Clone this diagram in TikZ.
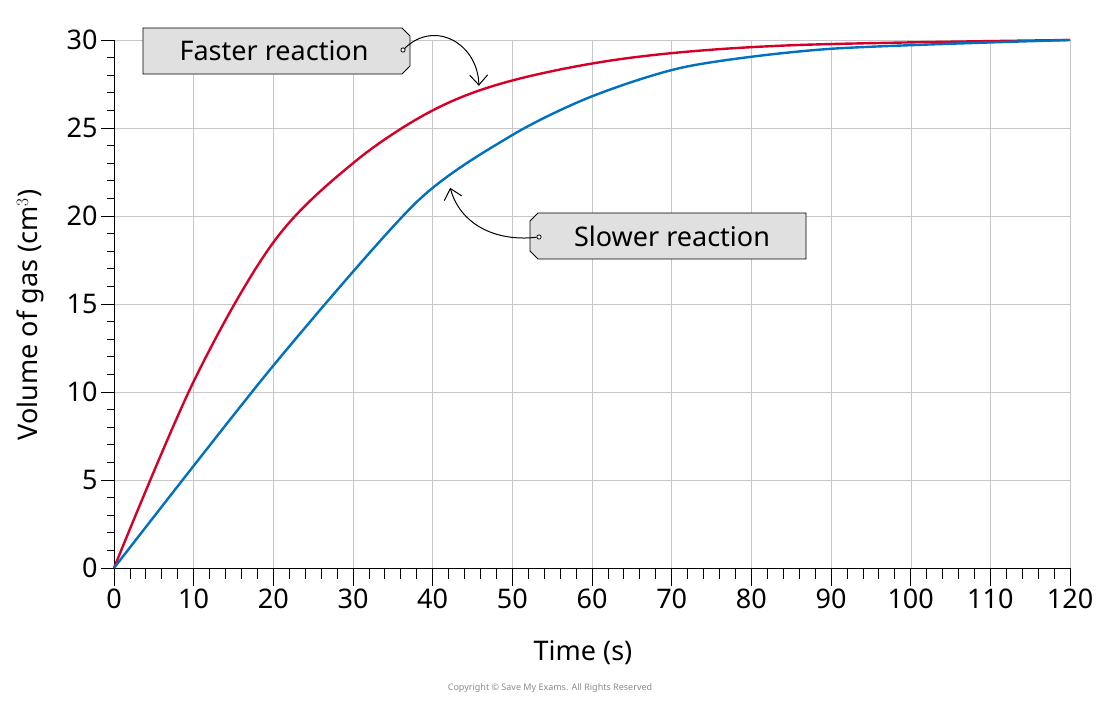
\documentclass[tikz,border=0pt]{standalone}
\usepackage{fontspec}
\setmainfont{Noto Sans}
\usetikzlibrary{arrows.meta}
\begin{document}
\begin{tikzpicture}[x=1pt,y=1pt,
  tk/.style={font=\fontsize{27}{30}\selectfont},
  bx/.style={thick,fill=black!12},
  crv/.style={line width=2.4pt}]
\useasboundingbox (0,0) rectangle (1100,704);
\fill[white] (0,0) rectangle (1100,704);
\begin{scope}[shift={(114,136)},x=7.967pt,y=17.6pt]
  \foreach \i in {10,20,...,120} \draw[black!22] (\i,0) -- (\i,30);
  \foreach \j in {5,10,...,30} \draw[black!22] (0,\j) -- (120,\j);
  \foreach \i in {0,2,...,120} \draw[thick] (\i,0) -- (\i,-0.6);
  \foreach \i in {0,10,...,120} \draw[thick] (\i,0) -- (\i,-1.0) node[tk,below=0pt] {\i};
  \foreach \j in {0,1,...,30} \draw[thick] (0,\j) -- (-0.9,\j);
  \foreach \j in {0,5,...,30} \draw[thick] (0,\j) -- (-1.6,\j) node[tk,left=0pt] {\j};
  \draw[thick] (0,0) -- (120,0);
  \draw[thick] (0,0) -- (0,30);
  \draw[crv,color={rgb,255:red,212;green,0;blue,40}] plot[smooth,tension=0.55] coordinates
   {(0,0) (10,10.6) (20,18.5) (30,23) (40,26) (50,27.7) (65,29.0) (85,29.7) (120,30)};
  \draw[crv,color={rgb,255:red,0;green,112;blue,192}] plot[smooth,tension=0.45] coordinates
   {(0,0) (20,11.5) (38,20.8) (50,24.6) (60,26.8) (72,28.5) (90,29.5) (120,30)};
  \coordinate (fa) at (45.8,27.4);
  \coordinate (sa) at (42.2,21.6);
\end{scope}
\draw[bx] (143,676) -- (402,676) -- (410,668) -- (410,638) -- (402,630) -- (143,630) -- cycle;
\node[tk] (ft) at (274,653) {Faster reaction};
\draw[bx] (806,491) -- (538,491) -- (530,483) -- (530,453) -- (538,445) -- (806,445) -- cycle;
\node[tk] (st) at (672,468) {Slower reaction};
\node[draw,circle,inner sep=1.5pt,thick,fill=white] (d1) at (403,654) {};
\node[draw,circle,inner sep=1.5pt,thick,fill=white] (d2) at (539,467) {};
\draw[line width=1pt,-{Straight Barb[length=10pt,width=18pt]}] (d1) .. controls (435,685) and (478,660) .. (fa);
\draw[line width=1pt,-{Straight Barb[length=10pt,width=18pt]}] (d2) .. controls (495,462) and (460,480) .. (sa);
\node[tk] (xl) at (583,51) {Time (s)};
\node[tk,rotate=90] (yl) at (30,389) {Volume of gas (cm$^3$)};
\node[font=\fontsize{9}{10}\selectfont,text=black!45] (cp) at (550,16) {Copyright © Save My Exams. All Rights Reserved};
\end{tikzpicture}
\end{document}
